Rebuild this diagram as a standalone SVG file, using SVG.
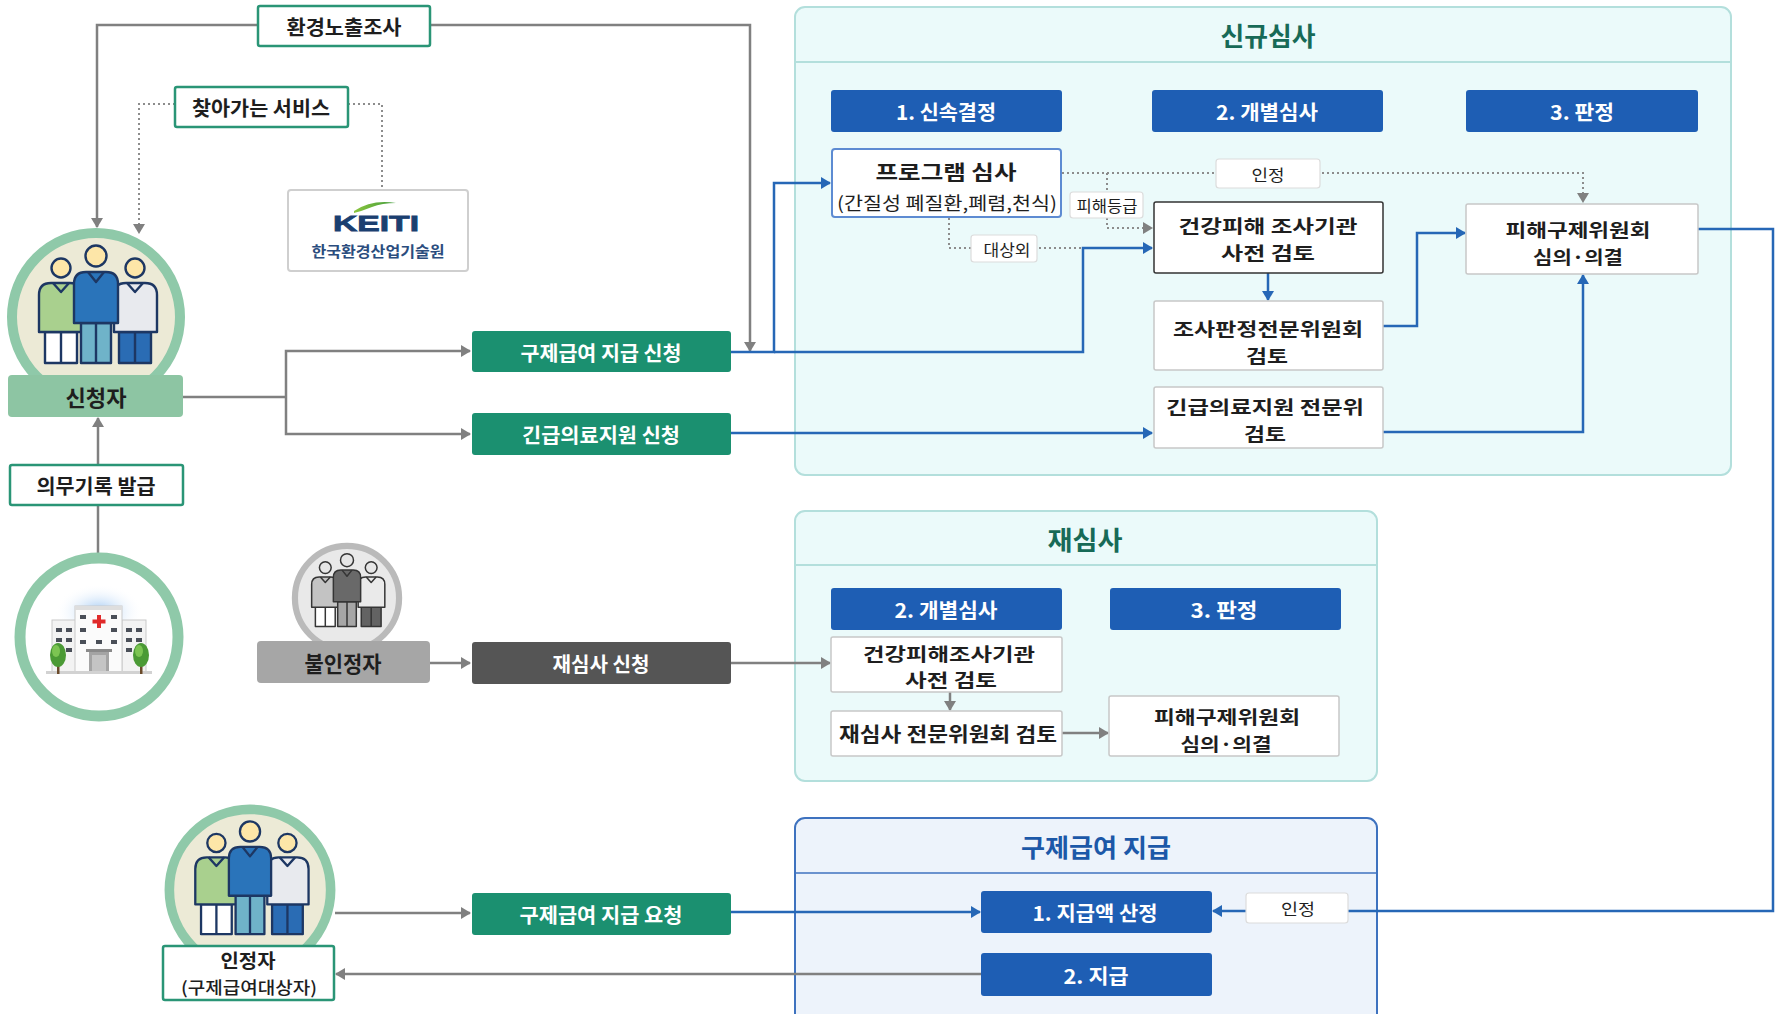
<svg xmlns="http://www.w3.org/2000/svg" width="1781" height="1014" viewBox="0 0 1781 1014">
<style>
text{font-family:"Noto Sans CJK KR","Noto Sans",sans-serif;text-anchor:middle;dominant-baseline:central;fill:#1e1e1e}
.b{font-weight:700}
.wt{fill:#fff}
.gbox{fill:#fff;stroke:#2a9576;stroke-width:2.5}
.teal{fill:#1b9070}
.hdr{fill:#1e5eb4}
.box{fill:#fff;stroke:#c8c8c8;stroke-width:1.5}
.tag{fill:#fff;stroke:#dcdcdc;stroke-width:1.2}
.panel{fill:#ebfafa;stroke:#b3dfdc;stroke-width:2}
.ptitle{fill:#176a57}
.g{fill:none;stroke:#808080;stroke-width:2.5}
.gd{fill:none;stroke:#8c8c8c;stroke-width:2;stroke-dasharray:2 3}
.bl{fill:none;stroke:#2667b6;stroke-width:2.5}
.ol{stroke:#1d3763;stroke-width:2.4;stroke-linejoin:round}
.win{fill:#4a4f58}
.two{font-size:18px}
</style>
<defs>
  <marker id="ag" markerUnits="userSpaceOnUse" markerWidth="10" markerHeight="12" refX="9" refY="6" orient="auto">
    <path d="M0,0L10,6L0,12Z" fill="#808080"/>
  </marker>
  <marker id="ab" markerUnits="userSpaceOnUse" markerWidth="10" markerHeight="12" refX="9" refY="6" orient="auto">
    <path d="M0,0L10,6L0,12Z" fill="#2667b6"/>
  </marker>
  <filter id="gray" color-interpolation-filters="sRGB">
    <feColorMatrix type="saturate" values="0"/>
  </filter>
  <radialGradient id="glow" cx="0.5" cy="0.5" r="0.5">
    <stop offset="0" stop-color="#9cc6f3"/>
    <stop offset="1" stop-color="#ffffff" stop-opacity="0"/>
  </radialGradient>
  <linearGradient id="leaf" x1="0" y1="0" x2="1" y2="0">
    <stop offset="0" stop-color="#8cc63f"/>
    <stop offset="1" stop-color="#3f9a3a"/>
  </linearGradient>
  <!-- three-person badge, centred on the ring -->
  <g id="people">
    <circle r="84" fill="#ecead6" stroke="#8fc9a9" stroke-width="10"/>
    <!-- left person -->
    <rect class="ol" x="-51" y="15" width="32" height="31" fill="#fff"/>
    <path class="ol" d="M-35,15V46" fill="none"/>
    <path class="ol" d="M-57,15V-22Q-57,-34 -45,-34H-26Q-14,-34 -14,-22V15Z" fill="#a9d08e"/>
    <path class="ol" d="M-43,-34L-35,-25L-27,-34" fill="none"/>
    <circle class="ol" cx="-35" cy="-49" r="9.5" fill="#fde6a8"/>
    <!-- right person -->
    <rect class="ol" x="23" y="15" width="32" height="31" fill="#2a6cb4"/>
    <path class="ol" d="M39,15V46" fill="none"/>
    <path class="ol" d="M18,15V-22Q18,-34 30,-34H49Q61,-34 61,-22V15Z" fill="#e8eaee"/>
    <path class="ol" d="M31,-34L39,-25L47,-34" fill="none"/>
    <circle class="ol" cx="39" cy="-49" r="9.5" fill="#fde6a8"/>
    <!-- centre person -->
    <rect class="ol" x="-15" y="6" width="30" height="40" fill="#6fb3c9"/>
    <path class="ol" d="M0,6V46" fill="none"/>
    <path class="ol" d="M-22,6V-33Q-22,-45 -10,-45H10Q22,-45 22,-33V6Z" fill="#2a74ba"/>
    <path class="ol" d="M-8,-45L0,-35L8,-45" fill="none"/>
    <circle class="ol" cx="0" cy="-61" r="10.5" fill="#fde6a8"/>
  </g>
</defs>

<rect width="1781" height="1014" fill="#fff"/>

<!-- review panels -->
<g id="panel-new">
  <rect class="panel" x="795" y="7" width="936" height="468" rx="10"/>
  <path d="M796,62H1730" stroke="#b3dfdc" stroke-width="2"/>
  <text class="b ptitle" x="1268" y="34" font-size="26" textLength="95" lengthAdjust="spacingAndGlyphs">신규심사</text>
</g>
<g id="panel-re">
  <rect class="panel" x="795" y="511" width="582" height="270" rx="10"/>
  <path d="M796,565H1376" stroke="#b3dfdc" stroke-width="2"/>
  <text class="b ptitle" x="1085" y="538" font-size="26" textLength="75" lengthAdjust="spacingAndGlyphs">재심사</text>
</g>
<g id="panel-pay">
  <rect x="795" y="818" width="582" height="230" rx="10" fill="#edf3fb" stroke="#3e72bf" stroke-width="2"/>
  <path d="M796,873H1376" stroke="#3e72bf" stroke-width="1.5"/>
  <text class="b" x="1096" y="846" font-size="25" style="fill:#1c58a8" textLength="150" lengthAdjust="spacingAndGlyphs">구제급여 지급</text>
</g>

<!-- connectors -->
<g id="connectors">
  <path class="g" d="M258,25H97V227" marker-end="url(#ag)"/>
  <path class="g" d="M430,25H750V351" marker-end="url(#ag)"/>
  <path class="gd" d="M175,104H139V233" marker-end="url(#ag)"/>
  <path class="gd" d="M348,104H382V189"/>
  <path class="g" d="M183,397H286"/>
  <path class="g" d="M286,397V351H470" marker-end="url(#ag)"/>
  <path class="g" d="M286,397V434H470" marker-end="url(#ag)"/>
  <path class="g" d="M98,465V418" marker-end="url(#ag)"/>
  <path class="g" d="M98,553V505"/>
  <path class="bl" d="M731,352H774V183H830" marker-end="url(#ab)"/>
  <path class="bl" d="M774,352H1083V248H1152" marker-end="url(#ab)"/>
  <path class="bl" d="M731,433H1152" marker-end="url(#ab)"/>
  <path class="gd" d="M1062,173H1583V202" marker-end="url(#ag)"/>
  <path class="gd" d="M1107,173V228H1152" marker-end="url(#ag)"/>
  <path class="gd" d="M949,218V248H1083"/>
  <path class="bl" d="M1268,273V300" marker-end="url(#ab)"/>
  <path class="bl" d="M1383,326H1417V233H1465" marker-end="url(#ab)"/>
  <path class="bl" d="M1383,432H1583V275" marker-end="url(#ab)"/>
  <path class="bl" d="M1698,229H1773V911H1213" marker-end="url(#ab)"/>
  <path class="bl" d="M731,912H980" marker-end="url(#ab)"/>
  <path class="g" d="M335,913H470" marker-end="url(#ag)"/>
  <path class="g" d="M981,974H336" marker-end="url(#ag)"/>
  <path class="g" d="M430,663H470" marker-end="url(#ag)"/>
  <path class="g" d="M731,663H830" marker-end="url(#ag)"/>
  <path class="g" d="M950,692V710" marker-end="url(#ag)"/>
  <path class="g" d="M1062,733H1108" marker-end="url(#ag)"/>
</g>

<!-- left side: applicants and sources -->
<g id="env-survey">
  <rect class="gbox" x="258" y="6" width="172" height="40" rx="2"/>
  <text class="b" x="344" y="26" font-size="20" textLength="115" lengthAdjust="spacingAndGlyphs">환경노출조사</text>
</g>
<g id="visit-service">
  <rect class="gbox" x="175" y="87" width="173" height="40" rx="2"/>
  <text class="b" x="261" y="107" font-size="20" textLength="138" lengthAdjust="spacingAndGlyphs">찾아가는 서비스</text>
</g>
<g id="keiti">
  <rect x="288" y="190" width="180" height="81" rx="3" fill="#fff" stroke="#cfcfcf" stroke-width="2"/>
  <path d="M354,211Q372,199 396,203Q382,203 372,207Q362,211 354,213Z" fill="url(#leaf)"/>
  <text x="376" y="223" font-size="22" font-weight="700" style="font-family:'Liberation Sans',sans-serif;fill:#1b3f70;stroke:#1b3f70;stroke-width:0.8" textLength="86" lengthAdjust="spacingAndGlyphs">KEITI</text>
  <text class="b" x="378" y="250" font-size="15" style="fill:#2b4d7e" textLength="133" lengthAdjust="spacingAndGlyphs">한국환경산업기술원</text>
</g>
<g id="applicant">
  <use href="#people" transform="translate(96,317)"/>
  <rect x="8" y="375" width="175" height="42" rx="4" fill="#8dc5a3"/>
  <text class="b" x="96" y="396" font-size="22" textLength="61" lengthAdjust="spacingAndGlyphs">신청자</text>
</g>
<g id="medical-record">
  <rect class="gbox" x="10" y="465" width="173" height="40" rx="2"/>
  <text class="b" x="96" y="485" font-size="20" textLength="119" lengthAdjust="spacingAndGlyphs">의무기록 발급</text>
</g>
<g id="hospital">
  <circle cx="99" cy="637" r="79" fill="#fff" stroke="#8fc9a9" stroke-width="11"/>
  <ellipse cx="99" cy="612" rx="44" ry="28" fill="url(#glow)"/>
  <rect x="52" y="620" width="24" height="52" fill="#f3f3f3" stroke="#c9c9c9"/>
  <rect x="122" y="620" width="24" height="52" fill="#f3f3f3" stroke="#c9c9c9"/>
  <rect x="75" y="606" width="47" height="66" fill="#fbfbfb" stroke="#c9c9c9"/>
  <rect x="75" y="606" width="47" height="4" fill="#dedede"/>
  <g class="win">
    <rect x="56" y="628" width="6" height="4"/><rect x="66" y="628" width="6" height="4"/>
    <rect x="56" y="638" width="6" height="4"/><rect x="66" y="638" width="6" height="4"/>
    <rect x="56" y="648" width="6" height="4"/><rect x="66" y="648" width="6" height="4"/>
    <rect x="56" y="658" width="6" height="4"/>
    <rect x="126" y="628" width="6" height="4"/><rect x="136" y="628" width="6" height="4"/>
    <rect x="126" y="638" width="6" height="4"/><rect x="136" y="638" width="6" height="4"/>
    <rect x="126" y="648" width="6" height="4"/><rect x="136" y="648" width="6" height="4"/>
    <rect x="136" y="658" width="6" height="4"/>
    <rect x="80" y="615" width="6" height="4"/><rect x="111" y="615" width="6" height="4"/>
    <rect x="80" y="628" width="6" height="4"/><rect x="111" y="628" width="6" height="4"/>
    <rect x="80" y="640" width="6" height="4"/><rect x="96" y="640" width="6" height="4"/><rect x="111" y="640" width="6" height="4"/>
  </g>
  <rect x="97" y="615" width="4" height="13" fill="#e02a2a"/>
  <rect x="92.5" y="619.5" width="13" height="4" fill="#e02a2a"/>
  <rect x="86" y="649" width="26" height="3" fill="#8a8a8a"/>
  <rect x="89" y="652" width="20" height="20" fill="#a4a4a4"/>
  <rect x="92" y="655" width="14" height="17" fill="#c4c4c4"/>
  <rect x="46" y="671" width="106" height="3" fill="#d2d2d2"/>
  <rect x="57" y="660" width="2.5" height="14" fill="#6b4a2a"/>
  <ellipse cx="58" cy="655" rx="8" ry="12" fill="#4b9a35"/>
  <ellipse cx="56" cy="651" rx="4" ry="6" fill="#7cc452"/>
  <rect x="140" y="660" width="2.5" height="14" fill="#6b4a2a"/>
  <ellipse cx="141" cy="655" rx="8" ry="12" fill="#4b9a35"/>
  <ellipse cx="139" cy="651" rx="4" ry="6" fill="#7cc452"/>
</g>
<g id="apply-relief">
  <rect class="teal" x="472" y="331" width="259" height="41" rx="3"/>
  <text class="b wt" x="601" y="352" font-size="20" textLength="161" lengthAdjust="spacingAndGlyphs">구제급여 지급 신청</text>
</g>
<g id="apply-emergency">
  <rect class="teal" x="472" y="413" width="259" height="42" rx="3"/>
  <text class="b wt" x="601" y="434" font-size="20" textLength="158" lengthAdjust="spacingAndGlyphs">긴급의료지원 신청</text>
</g>
<g id="rejected">
  <use href="#people" transform="translate(347,598) scale(0.62)" filter="url(#gray)"/>
  <rect x="257" y="641" width="173" height="42" rx="4" fill="#a6a6a6"/>
  <text class="b" x="343" y="662" font-size="22" textLength="77" lengthAdjust="spacingAndGlyphs">불인정자</text>
</g>
<g id="apply-rereview">
  <rect x="472" y="642" width="259" height="42" rx="3" fill="#555"/>
  <text class="b wt" x="601" y="663" font-size="20" textLength="97" lengthAdjust="spacingAndGlyphs">재심사 신청</text>
</g>
<g id="recognized">
  <use href="#people" transform="translate(250,890) scale(0.96)"/>
  <rect class="gbox" x="163" y="946" width="171" height="54" rx="2"/>
  <text class="b" x="248" y="959" font-size="19" textLength="55" lengthAdjust="spacingAndGlyphs">인정자</text>
  <text x="249" y="986" font-size="17" font-weight="500" textLength="136" lengthAdjust="spacingAndGlyphs">(구제급여대상자)</text>
</g>
<g id="request-pay">
  <rect class="teal" x="472" y="893" width="259" height="42" rx="3"/>
  <text class="b wt" x="601" y="914" font-size="20" textLength="163" lengthAdjust="spacingAndGlyphs">구제급여 지급 요청</text>
</g>

<!-- new review -->
<g id="h-fast">
  <rect class="hdr" x="831" y="90" width="231" height="42" rx="3"/>
  <text class="b wt" x="946" y="111" font-size="20" textLength="100" lengthAdjust="spacingAndGlyphs">1. 신속결정</text>
</g>
<g id="h-indiv">
  <rect class="hdr" x="1152" y="90" width="231" height="42" rx="3"/>
  <text class="b wt" x="1267" y="111" font-size="20" textLength="102" lengthAdjust="spacingAndGlyphs">2. 개별심사</text>
</g>
<g id="h-decide">
  <rect class="hdr" x="1466" y="90" width="232" height="42" rx="3"/>
  <text class="b wt" x="1582" y="111" font-size="20" textLength="64" lengthAdjust="spacingAndGlyphs">3. 판정</text>
</g>
<g id="program-review">
  <rect x="832" y="149" width="229" height="68" rx="3" fill="#fff" stroke="#5d8bd2" stroke-width="2"/>
  <text class="b" x="946" y="171" font-size="20" textLength="141" lengthAdjust="spacingAndGlyphs">프로그램 심사</text>
  <text x="947" y="202" font-size="18" textLength="220" lengthAdjust="spacingAndGlyphs">(간질성 폐질환,폐렴,천식)</text>
</g>
<g id="health-pre">
  <rect x="1154" y="202" width="229" height="71" rx="2" fill="#fff" stroke="#333" stroke-width="1.5"/>
  <text class="b two" x="1268" y="225" textLength="179" lengthAdjust="spacingAndGlyphs">건강피해 조사기관</text>
  <text class="b two" x="1268" y="251.5" textLength="94" lengthAdjust="spacingAndGlyphs">사전 검토</text>
</g>
<g id="expert-committee">
  <rect class="box" x="1154" y="301" width="229" height="69" rx="2"/>
  <text class="b two" x="1268" y="328" textLength="190" lengthAdjust="spacingAndGlyphs">조사판정전문위원회</text>
  <text class="b two" x="1267" y="354.5" textLength="42" lengthAdjust="spacingAndGlyphs">검토</text>
</g>
<g id="emergency-committee">
  <rect class="box" x="1154" y="387" width="229" height="61" rx="2"/>
  <text class="b two" x="1265" y="406" textLength="198" lengthAdjust="spacingAndGlyphs">긴급의료지원 전문위</text>
  <text class="b two" x="1265" y="432.5" textLength="42" lengthAdjust="spacingAndGlyphs">검토</text>
</g>
<g id="relief-committee">
  <rect class="box" x="1466" y="204" width="232" height="70" rx="2"/>
  <text class="b two" x="1578" y="229" textLength="145" lengthAdjust="spacingAndGlyphs">피해구제위원회</text>
  <text class="b two" x="1578" y="255.5" textLength="90" lengthAdjust="spacingAndGlyphs">심의·의결</text>
</g>
<g id="tag-recognized">
  <rect class="tag" x="1216" y="159" width="104" height="29" rx="3"/>
  <text x="1268" y="174" font-size="16" textLength="33" lengthAdjust="spacingAndGlyphs">인정</text>
</g>
<g id="tag-grade">
  <rect class="tag" x="1070" y="192" width="73" height="26" rx="3"/>
  <text x="1107" y="205" font-size="16" textLength="61" lengthAdjust="spacingAndGlyphs">피해등급</text>
</g>
<g id="tag-excluded">
  <rect class="tag" x="971" y="235" width="66" height="27" rx="3"/>
  <text x="1007" y="249" font-size="16" textLength="47" lengthAdjust="spacingAndGlyphs">대상외</text>
</g>

<!-- re-review -->
<g id="rh-indiv">
  <rect class="hdr" x="831" y="588" width="231" height="42" rx="3"/>
  <text class="b wt" x="946" y="609" font-size="20" textLength="103" lengthAdjust="spacingAndGlyphs">2. 개별심사</text>
</g>
<g id="rh-decide">
  <rect class="hdr" x="1110" y="588" width="231" height="42" rx="3"/>
  <text class="b wt" x="1224" y="609" font-size="20" textLength="67" lengthAdjust="spacingAndGlyphs">3. 판정</text>
</g>
<g id="re-health-pre">
  <rect class="box" x="831" y="637" width="231" height="55" rx="2"/>
  <text class="b two" x="949" y="652.5" textLength="172" lengthAdjust="spacingAndGlyphs">건강피해조사기관</text>
  <text class="b two" x="951" y="679" textLength="92" lengthAdjust="spacingAndGlyphs">사전 검토</text>
</g>
<g id="re-committee">
  <rect class="box" x="831" y="711" width="231" height="45" rx="2"/>
  <text class="b" x="948" y="733" font-size="20" textLength="218" lengthAdjust="spacingAndGlyphs">재심사 전문위원회 검토</text>
</g>
<g id="re-relief-committee">
  <rect class="box" x="1109" y="696" width="230" height="60" rx="2"/>
  <text class="b two" x="1227" y="716" textLength="146" lengthAdjust="spacingAndGlyphs">피해구제위원회</text>
  <text class="b two" x="1226" y="742.5" textLength="91" lengthAdjust="spacingAndGlyphs">심의·의결</text>
</g>

<!-- payment -->
<g id="pay-calc">
  <rect class="hdr" x="981" y="891" width="231" height="42" rx="3"/>
  <text class="b wt" x="1095" y="912" font-size="20" textLength="125" lengthAdjust="spacingAndGlyphs">1. 지급액 산정</text>
</g>
<g id="pay-out">
  <rect class="hdr" x="981" y="953" width="231" height="43" rx="3"/>
  <text class="b wt" x="1096" y="975" font-size="20" textLength="65" lengthAdjust="spacingAndGlyphs">2. 지급</text>
</g>
<g id="tag-recognized-pay">
  <rect class="tag" x="1246" y="893" width="102" height="30" rx="3"/>
  <text x="1298" y="908" font-size="16" textLength="34" lengthAdjust="spacingAndGlyphs">인정</text>
</g>
</svg>
